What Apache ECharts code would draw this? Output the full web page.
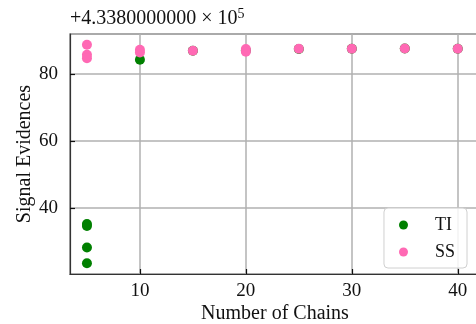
<!DOCTYPE html>
<html><head><meta charset="utf-8">
<script src="https://cdn.jsdelivr.net/npm/echarts@6/dist/echarts.min.js"></script>
<style>html,body{margin:0;padding:0;background:#fff}#c{width:476px;height:324px}</style>
</head><body><div id="c"></div>
<script>
// Number of chains and signal evidences (offset +4.3380000000e5)
const tiChains = [5, 5, 5, 5, 10, 15, 20, 25, 30, 35, 40];
const tiValues = [35.2, 34.6, 28.2, 23.5, 84.2, 86.9, 87.0, 87.4, 87.5, 87.6, 87.5];
const ssChains = [5, 5, 5, 10, 10, 15, 20, 20, 25, 30, 35, 40];
const ssValues = [88.7, 85.7, 84.7, 87.2, 86.4, 86.9, 87.4, 86.6, 87.5, 87.5, 87.6, 87.5];
const seriesNames = ['TI', 'SS'];
const offsetText = '+4.3380000000 \u00d7 10';
const offsetExp = '5';

const font = 'Liberation Serif';
const chart = echarts.init(document.getElementById('c'));
const pair = (xs, ys) => xs.map((x, i) => [x, ys[i]]);
chart.setOption({
  animation: false,
  backgroundColor: '#fff',
  textStyle: { fontFamily: font },
  grid: { left: 70, top: 34, right: -4, bottom: 50, containLabel: false, outerBoundsMode: 'none', show: true, borderColor: '#333', borderWidth: 1.2, backgroundColor: 'transparent' },
  xAxis: {
    type: 'value', min: 3.4, max: 42.1, splitNumber: 4,
    name: 'Number of Chains', nameLocation: 'middle', nameGap: 30, nameMoveOverlap: false,
    nameTextStyle: { fontFamily: font, fontSize: 20, color: '#111' },
    axisLine: { lineStyle: { color: '#333', width: 1.2 } },
    axisTick: { inside: true, length: 5, lineStyle: { color: '#111', width: 1.2 } },
    axisLabel: { fontFamily: font, fontSize: 19, color: '#111', margin: 8, showMinLabel: false, showMaxLabel: false },
    splitLine: { show: true, lineStyle: { color: '#b0b0b0', width: 1.5 } }
  },
  yAxis: {
    type: 'value', min: 20.3, max: 91.9, splitNumber: 4,
    name: 'Signal Evidences', nameLocation: 'middle', nameGap: 35, nameMoveOverlap: false,
    nameTextStyle: { fontFamily: font, fontSize: 20, color: '#111' },
    axisLine: { lineStyle: { color: '#333', width: 1.2 } },
    axisTick: { inside: true, length: 5, lineStyle: { color: '#111', width: 1.2 } },
    axisLabel: { fontFamily: font, fontSize: 19, color: '#111', margin: 12, showMinLabel: false, showMaxLabel: false },
    splitLine: { show: true, lineStyle: { color: '#b0b0b0', width: 1.5 } }
  },
  legend: {
    right: 9, bottom: 56, orient: 'vertical', itemGap: 9,
    padding: [8, 12, 7, 15],
    backgroundColor: 'rgba(255,255,255,0.85)', borderColor: '#d0d0d0', borderWidth: 1, borderRadius: 4,
    itemWidth: 9, itemHeight: 9,
    textStyle: { fontFamily: font, fontSize: 18, color: '#111', padding: [0, 0, 0, 22] },
    data: seriesNames.map(n => ({ name: n, icon: 'circle' }))
  },
  graphic: [{
    type: 'text', left: 70, top: 7,
    style: {
      text: '{a|' + offsetText + '}{s|' + offsetExp + '}',
      rich: {
        a: { fontFamily: font, fontSize: 20, fill: '#111' },
        s: { fontFamily: font, fontSize: 14, fill: '#111', verticalAlign: 'top', padding: [0, 0, 9, 0] }
      }
    }
  }],
  series: [
    { name: seriesNames[0], type: 'scatter', symbolSize: 10, itemStyle: { color: '#008000', opacity: 1 }, data: pair(tiChains, tiValues), z: 3 },
    { name: seriesNames[1], type: 'scatter', symbolSize: 10, itemStyle: { color: '#ff69b4', opacity: 1 }, data: pair(ssChains, ssValues), z: 4 }
  ]
});
</script></body></html>
